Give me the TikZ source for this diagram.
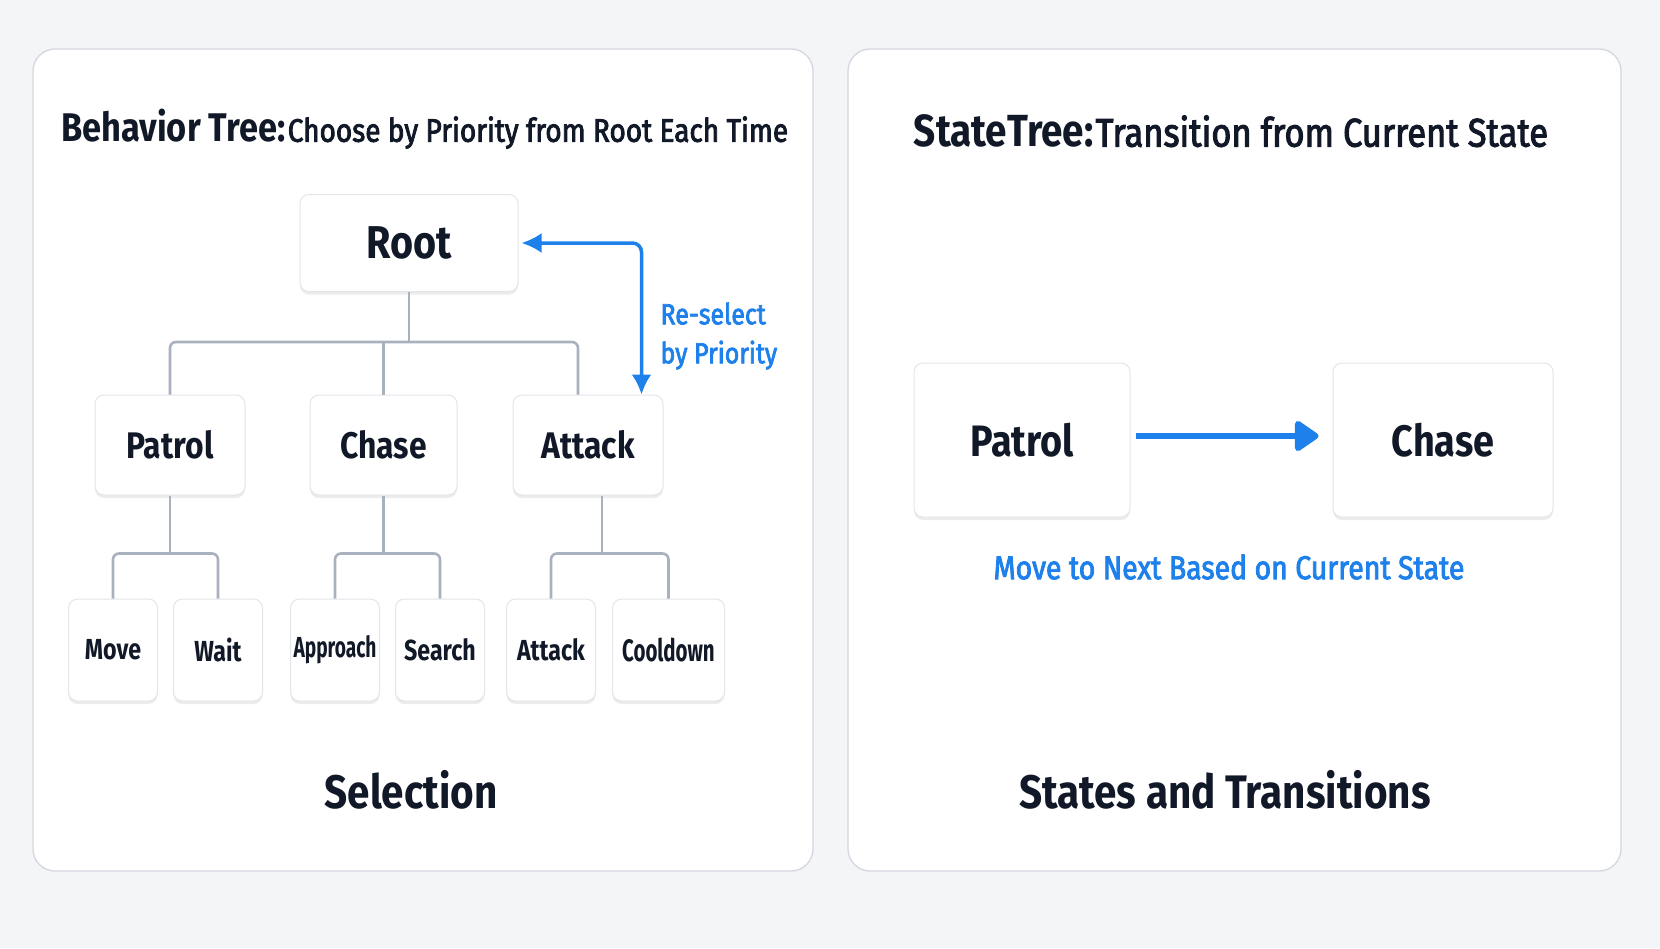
\documentclass[tikz,border=0pt]{standalone}
\usepackage{fontspec}
\setmainfont{Fira Sans}[FakeStretch=0.86]
\newfontfamily\medfont{Fira Sans}[FakeStretch=0.86, FakeBold=2.5]
\newfontfamily\leaffont{Fira Sans}[FakeStretch=0.80]
\newfontfamily\squeezefont{Fira Sans}[FakeStretch=0.66]
\usetikzlibrary{positioning,arrows.meta,shadows}
\definecolor{inkdark}{HTML}{111827}
\definecolor{flowblue}{HTML}{1E80EA}
\definecolor{linkgray}{HTML}{A9B1BE}
\definecolor{panelline}{HTML}{D3D7DE}
\definecolor{boxline}{HTML}{E2E5EA}
\definecolor{canvas}{HTML}{F4F5F7}
\newcommand{\pxfont}[1]{\fontsize{#1}{1.25\dimexpr #1pt\relax}\selectfont}
\tikzstyle{panel} = [draw=panelline, line width=1.3pt, fill=white, rounded corners=22pt]
\tikzstyle{tnode} = [rectangle, rounded corners=9pt, draw=boxline, line width=1pt, fill=white, text=inkdark, inner sep=1pt, drop shadow={shadow xshift=0pt, shadow yshift=-3pt, opacity=0.10, fill=black!70}]
\tikzstyle{midnode} = [tnode, minimum width=150pt, minimum height=100pt, font=\bfseries\pxfont{37}]
\tikzstyle{leafnode} = [tnode, minimum width=89pt, minimum height=102pt, font=\leaffont\bfseries\pxfont{29}]
\tikzstyle{statenode} = [tnode, minimum width=216pt, minimum height=154pt, font=\bfseries\pxfont{44}]
\tikzstyle{link} = [draw=linkgray, line width=2.6pt, rounded corners=6pt]
\tikzstyle{reselect} = [draw=flowblue, line width=3.5pt, rounded corners=9pt, {Latex[length=20pt,width=20pt]}-{Latex[length=20pt,width=20pt]}]
\tikzstyle{transition} = [draw=flowblue, line width=6pt, shorten <=5pt, shorten >=14pt, -{Triangle[length=26pt,width=34pt,round]}]
\tikzstyle{heading} = [text=inkdark, inner sep=0pt]
\tikzstyle{footer} = [text=inkdark, font=\bfseries\pxfont{47}]
\tikzstyle{bluenote} = [text=flowblue, font=\medfont\pxfont{29}]

\begin{document}
\begin{tikzpicture}[x=1pt, y=-1pt]

% canvas and panels ======================
\fill[canvas] (0,0) rectangle (1660,948);
\draw[panel] (33,49) rectangle (813,871);
\draw[panel] (848,49) rectangle (1621,871);

% behavior tree ==========================

\node[heading, anchor=west] (bttitle) at (61,129) {{\bfseries\pxfont{40}Behavior Tree:}\ {\medfont\pxfont{32.5}Choose by Priority from Root Each Time}};

% root
\node[tnode, minimum width=218pt, minimum height=97pt, font=\bfseries\pxfont{46}] (root) at (409,243) {Root};

% first level
\node[midnode] (patrol) at (170,445) {Patrol};
\node[midnode, minimum width=147pt, right=64pt of patrol] (chase) {Chase};
\node[midnode, right=55pt of chase] (attack) {Attack};

% leaves
\node[leafnode] (move) at (113,650) {Move};
\node[leafnode, right=15pt of move] (wait) {Wait};
\node[leafnode, right=27pt of wait, font=\squeezefont\bfseries\pxfont{29}] (approach) {Approach};
\node[leafnode, right=15pt of approach] (search) {Search};
\node[leafnode, right=21pt of search] (hit) {Attack};
\node[leafnode, minimum width=112pt, right=16pt of hit, font=\squeezefont\bfseries\pxfont{31}] (cooldown) {Cooldown};

% edges root to first level
\coordinate (rootjoin) at (409,342);
\path[link] (root.south) -- (rootjoin);
\path[link] (patrol.north) |- (rootjoin);
\path[link] ([xshift=-10pt]attack.north) |- (rootjoin);
\path[link] (chase.north) -- (chase.north |- rootjoin);

% edges first level to leaves
\coordinate (patroljoin) at ([yshift=-58pt]patrol.south);
\coordinate (chasejoin) at ([yshift=-58pt]chase.south);
\coordinate (attackjoin) at ([xshift=14pt, yshift=-58pt]attack.south);
\path[link] (patrol.south) -- (patroljoin);
\path[link] (move.north) |- (patroljoin) -| (wait.north);
\path[link] (chase.south) -- (chasejoin);
\path[link] (approach.north) |- (chasejoin) -| (search.north);
\path[link] ([xshift=14pt]attack.south) -- (attackjoin);
\path[link] (hit.north) |- (attackjoin) -| (cooldown.north);

% re-select loop
\path[reselect] ([xshift=3pt]root.east) -| ([xshift=-22pt]attack.north east);
\node[bluenote, anchor=west, align=left, font=\medfont\fontsize{29}{39}\selectfont] (reselectnote) at (657,336) {Re-select\\by Priority};

\node[footer] (selection) at (411,790) {Selection};

% state tree =============================

\node[heading] (sttitle) at (1231,131) {{\bfseries\pxfont{45}StateTree:}\ {\medfont\pxfont{40}Transition from Current State}};

\node[statenode] (patrolstate) at (1022,440) {Patrol};
\node[statenode, minimum width=220pt, right=202pt of patrolstate] (chasestate) {Chase};

\path[transition] ([yshift=4pt]patrolstate.east) -- ([yshift=4pt]chasestate.west);
\node[bluenote, font=\medfont\pxfont{33}] (transnote) at (1229,567) {Move to Next Based on Current State};

\node[footer] (statesfooter) at (1225,790) {States and Transitions};

\end{tikzpicture}
\end{document}
